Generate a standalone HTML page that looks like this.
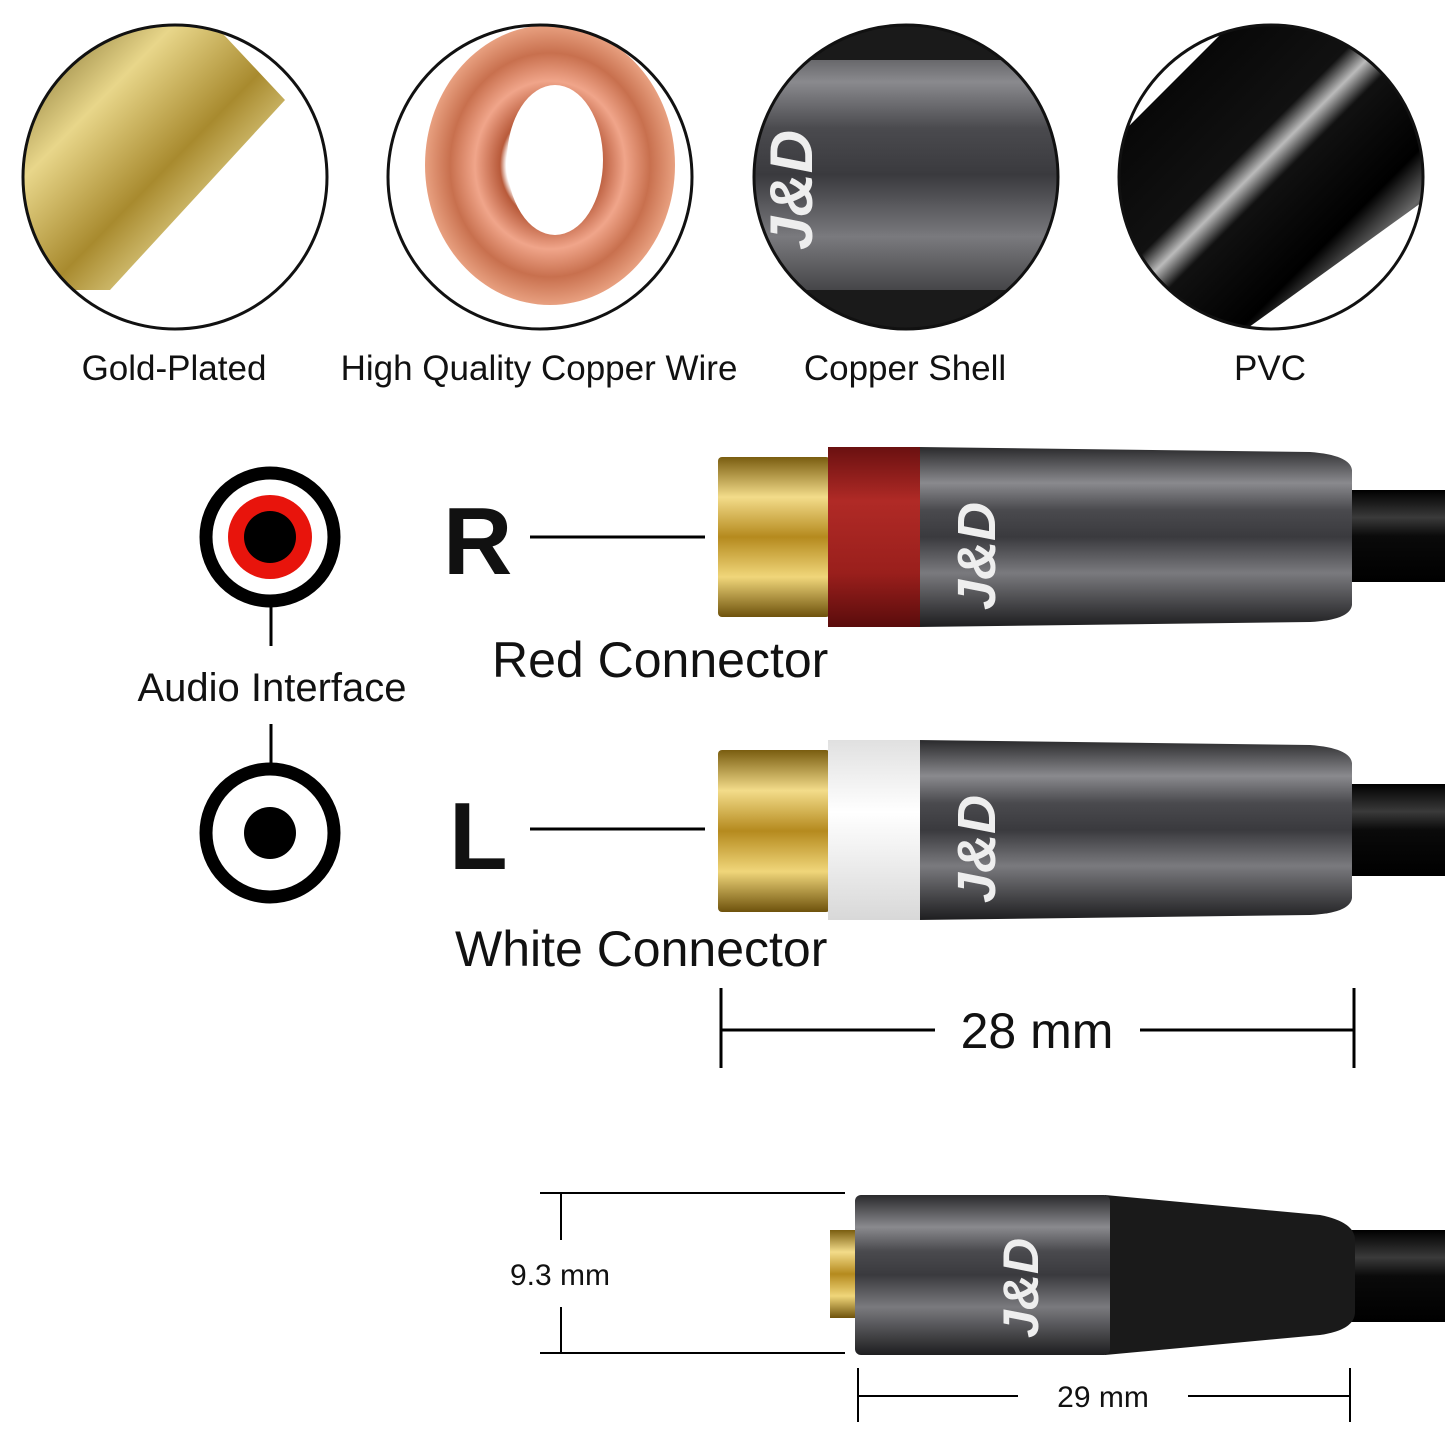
<!DOCTYPE html>
<html><head><meta charset="utf-8"><style>
html,body{margin:0;padding:0;background:#fff;}
svg{display:block}
text{font-family:"Liberation Sans",sans-serif;fill:#111}
</style></head><body>
<svg width="1445" height="1445" viewBox="0 0 1445 1445" xmlns="http://www.w3.org/2000/svg">
<defs>
<linearGradient id="gold" x1="0" y1="0" x2="1" y2="1">
<stop offset="0" stop-color="#6b5a1c"/><stop offset="0.3" stop-color="#e8d68a"/><stop offset="0.55" stop-color="#a88a2e"/><stop offset="0.8" stop-color="#f2e6a6"/><stop offset="1" stop-color="#7a6420"/></linearGradient>
<linearGradient id="goldV" x1="0" y1="0" x2="0" y2="1">
<stop offset="0" stop-color="#7a5d10"/><stop offset="0.25" stop-color="#f3dc8a"/><stop offset="0.5" stop-color="#b58a1e"/><stop offset="0.75" stop-color="#f0d67a"/><stop offset="1" stop-color="#6e520c"/></linearGradient>
<linearGradient id="body" x1="0" y1="0" x2="0" y2="1">
<stop offset="0" stop-color="#2a2a2c"/><stop offset="0.2" stop-color="#8a8a8e"/><stop offset="0.35" stop-color="#4a4a4e"/><stop offset="0.5" stop-color="#3a3a3e"/><stop offset="0.7" stop-color="#7a7a7e"/><stop offset="1" stop-color="#1e1e20"/></linearGradient>
<linearGradient id="red" x1="0" y1="0" x2="0" y2="1">
<stop offset="0" stop-color="#6a1010"/><stop offset="0.3" stop-color="#b02a26"/><stop offset="0.7" stop-color="#9a1f1c"/><stop offset="1" stop-color="#5a0c0c"/></linearGradient>
<linearGradient id="white" x1="0" y1="0" x2="0" y2="1">
<stop offset="0" stop-color="#e0e0e0"/><stop offset="0.4" stop-color="#ffffff"/><stop offset="1" stop-color="#d8d8d8"/></linearGradient>
<linearGradient id="cable" x1="0" y1="0" x2="0" y2="1">
<stop offset="0" stop-color="#000"/><stop offset="0.3" stop-color="#3a3a3a"/><stop offset="0.5" stop-color="#0a0a0a"/><stop offset="1" stop-color="#000"/></linearGradient>
<linearGradient id="pvc" x1="0" y1="0" x2="1" y2="1">
<stop offset="0" stop-color="#000"/><stop offset="0.42" stop-color="#111"/><stop offset="0.47" stop-color="#bbb"/><stop offset="0.52" stop-color="#111"/><stop offset="0.7" stop-color="#000"/><stop offset="0.78" stop-color="#666"/><stop offset="0.85" stop-color="#000"/></linearGradient>
<radialGradient id="copper" cx="0.5" cy="0.5" r="0.5">
<stop offset="0.35" stop-color="#fff"/><stop offset="0.4" stop-color="#b85a3a"/><stop offset="0.6" stop-color="#f0a58a"/><stop offset="0.8" stop-color="#c8704e"/><stop offset="1" stop-color="#e8a080"/></radialGradient>
<clipPath id="c1"><circle cx="175" cy="177" r="152"/></clipPath>
<clipPath id="c2"><circle cx="540" cy="177" r="152"/></clipPath>
<clipPath id="c3"><circle cx="906" cy="177" r="152"/></clipPath>
<clipPath id="c4"><circle cx="1271" cy="177" r="152"/></clipPath>
</defs>

<g clip-path="url(#c1)">
<rect x="20" y="20" width="310" height="310" fill="#fff"/>
<polygon points="20,20 210,20 285,100 110,290 20,290" fill="url(#gold)"/>
</g>
<circle cx="175" cy="177" r="152" fill="none" stroke="#111" stroke-width="3"/>
<g clip-path="url(#c2)">
<rect x="385" y="20" width="310" height="310" fill="#fff"/>
<ellipse cx="550" cy="165" rx="125" ry="140" fill="url(#copper)"/>
<ellipse cx="555" cy="160" rx="48" ry="75" fill="#fff"/>
</g>
<circle cx="540" cy="177" r="152" fill="none" stroke="#111" stroke-width="3"/>
<g clip-path="url(#c3)">
<rect x="750" y="20" width="310" height="310" fill="url(#body)"/>
<rect x="750" y="20" width="310" height="40" fill="#1a1a1a"/>
<rect x="750" y="290" width="310" height="40" fill="#1a1a1a"/>
<text x="0" y="0" transform="translate(812,250) rotate(-90)" font-size="60" font-style="italic" font-weight="bold" style="fill:#eee">J&amp;D</text>
</g>
<circle cx="906" cy="177" r="152" fill="none" stroke="#111" stroke-width="3"/>
<g clip-path="url(#c4)">
<rect x="1115" y="20" width="310" height="310" fill="#fff"/>
<polygon points="1115,140 1235,20 1425,20 1425,200 1245,330 1115,330" fill="url(#pvc)"/>
</g>
<circle cx="1271" cy="177" r="152" fill="none" stroke="#111" stroke-width="3"/>

<text x="174" y="380" font-size="35" text-anchor="middle">Gold-Plated</text>
<text x="539" y="380" font-size="35" text-anchor="middle">High Quality Copper Wire</text>
<text x="905" y="380" font-size="35" text-anchor="middle">Copper Shell</text>
<text x="1270" y="380" font-size="35" text-anchor="middle">PVC</text>

<circle cx="270" cy="537" r="64" fill="#fff" stroke="#000" stroke-width="13"/>
<circle cx="270" cy="537" r="42" fill="#e8140c"/>
<circle cx="270" cy="537" r="26" fill="#000"/>
<line x1="271" y1="603" x2="271" y2="646" stroke="#000" stroke-width="3"/>
<text x="272" y="701" font-size="40" text-anchor="middle">Audio Interface</text>
<line x1="271" y1="724" x2="271" y2="768" stroke="#000" stroke-width="3"/>
<circle cx="270" cy="833" r="64" fill="#fff" stroke="#000" stroke-width="13"/>
<circle cx="270" cy="833" r="26" fill="#000"/>

<text x="443" y="574" font-size="96" font-weight="bold">R</text>
<line x1="530" y1="537" x2="705" y2="537" stroke="#000" stroke-width="3"/>
<text x="449" y="869" font-size="96" font-weight="bold">L</text>
<line x1="530" y1="829" x2="705" y2="829" stroke="#000" stroke-width="3"/>

<rect x="1345" y="490" width="100" height="92" fill="url(#cable)"/>
<path d="M918,447 L1310,452 Q1350,455 1352,470 L1352,605 Q1350,620 1310,622 L918,627 Z" fill="url(#body)"/>
<rect x="718" y="457" width="112" height="160" fill="url(#goldV)" rx="4"/>
<rect x="828" y="447" width="92" height="180" fill="url(#red)"/>
<text transform="translate(995,610) rotate(-90)" font-size="54" font-style="italic" font-weight="bold" style="fill:#eee">J&amp;D</text>
<text x="492" y="677" font-size="50">Red Connector</text>

<rect x="1345" y="784" width="100" height="92" fill="url(#cable)"/>
<path d="M918,740 L1310,745 Q1350,748 1352,763 L1352,898 Q1350,913 1310,915 L918,920 Z" fill="url(#body)"/>
<rect x="718" y="750" width="112" height="162" fill="url(#goldV)" rx="4"/>
<rect x="828" y="740" width="92" height="180" fill="url(#white)"/>
<text transform="translate(995,903) rotate(-90)" font-size="54" font-style="italic" font-weight="bold" style="fill:#eee">J&amp;D</text>
<text x="455" y="966" font-size="50">White Connector</text>

<line x1="721" y1="988" x2="721" y2="1068" stroke="#000" stroke-width="3"/>
<line x1="1354" y1="988" x2="1354" y2="1068" stroke="#000" stroke-width="3"/>
<line x1="721" y1="1030" x2="935" y2="1030" stroke="#000" stroke-width="3"/>
<line x1="1140" y1="1030" x2="1354" y2="1030" stroke="#000" stroke-width="3"/>
<text x="1037" y="1048" font-size="50" text-anchor="middle">28 mm</text>

<rect x="1345" y="1230" width="100" height="92" fill="url(#cable)"/>
<path d="M1105,1195 L1320,1215 Q1355,1222 1355,1240 L1355,1312 Q1355,1330 1320,1335 L1105,1355 Z" fill="#1a1a1a"/>
<rect x="830" y="1230" width="30" height="88" fill="url(#goldV)"/>
<rect x="855" y="1195" width="255" height="160" rx="6" fill="url(#body)"/>
<text transform="translate(1038,1338) rotate(-90)" font-size="50" font-style="italic" font-weight="bold" style="fill:#eee">J&amp;D</text>

<line x1="540" y1="1193" x2="845" y2="1193" stroke="#000" stroke-width="2"/>
<line x1="540" y1="1353" x2="845" y2="1353" stroke="#000" stroke-width="2"/>
<line x1="561" y1="1193" x2="561" y2="1240" stroke="#000" stroke-width="2"/>
<line x1="561" y1="1307" x2="561" y2="1353" stroke="#000" stroke-width="2"/>
<text x="560" y="1285" font-size="30" text-anchor="middle">9.3 mm</text>

<line x1="858" y1="1368" x2="858" y2="1422" stroke="#000" stroke-width="2"/>
<line x1="1350" y1="1368" x2="1350" y2="1422" stroke="#000" stroke-width="2"/>
<line x1="858" y1="1396" x2="1018" y2="1396" stroke="#000" stroke-width="2"/>
<line x1="1188" y1="1396" x2="1350" y2="1396" stroke="#000" stroke-width="2"/>
<text x="1103" y="1407" font-size="30" text-anchor="middle">29 mm</text>
</svg>
</body></html>
